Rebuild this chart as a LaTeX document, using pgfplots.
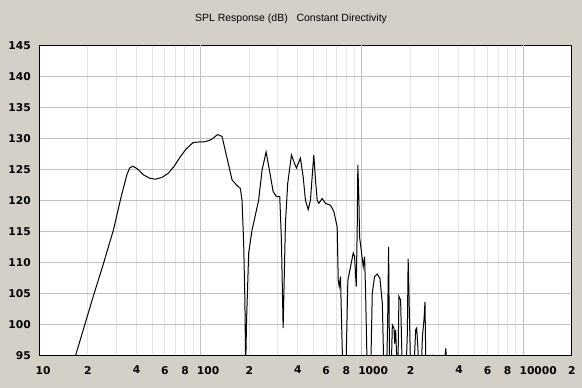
\documentclass[border=0pt]{standalone}
\usepackage{pgfplots}
\pgfplotsset{compat=1.18}
\usepackage{fontspec}
\setmainfont{Liberation Sans}
\newfontfamily\tickfont{DejaVu Sans}
\definecolor{bg}{RGB}{212,208,200}
\definecolor{gmaj}{RGB}{192,192,192}
\definecolor{gmin}{RGB}{228,228,228}
\begin{document}
\begin{tikzpicture}[x=1pt,y=1pt]
\fill[bg] (0,0) rectangle (582,388);
\path[use as bounding box] (0,0) rectangle (582,388);
\begin{axis}[
  at={(39.3pt,32.7pt)}, anchor=south west,
  scale only axis, width=532.4pt, height=310pt,
  xmode=log, log basis x=10,
  xmin=10, xmax=20000, ymin=95, ymax=145,
  axis background/.style={fill=white},
  xtick={10,20,40,60,80,100,200,400,600,800,1000,2000,4000,6000,8000,10000,20000},
  xticklabels={10,2,4,6,8,100,2,4,6,8,1000,2,4,6,8,10000,2},
  minor xtick={20,30,40,50,60,70,80,90,200,300,400,500,600,700,800,900,2000,3000,4000,5000,6000,7000,8000,9000},
  extra x ticks={100,1000,10000},
  extra x tick labels={,,},
  extra x tick style={grid=major},
  ytick={95,100,105,110,115,120,125,130,135,140,145},
  yticklabels={95,100,105,110,115,120,125,130,135,140,145},
  xmajorgrids=false, xminorgrids=true, ymajorgrids=true,
  major grid style={gmaj, line width=1pt},
  minor grid style={gmin, line width=1pt},
  major tick length=0pt, minor tick length=0pt,
  axis line style={black, line width=1pt},
  xticklabel style={font=\tickfont\bfseries\fontsize{10.7}{12}\selectfont, anchor=north west, inner sep=0pt, xshift=-3.8pt, yshift=-10.7pt},
  yticklabel style={font=\tickfont\bfseries\fontsize{10.7}{12}\selectfont, anchor=east, inner sep=0pt, xshift=-8.3pt},
]
\addplot[black, line width=1pt, mark=none] coordinates {
(16.0,93.3) (16.8,95) (21.6,104.5) (25.0,109.8) (28.8,115.2) (32.2,120.6)
(34.9,124.1) (36.3,125.2) (38.0,125.5) (40.4,125.1) (44.3,124.1) (48.0,123.6)
(52.3,123.4) (57.8,123.7) (63.3,124.4) (68.6,125.5) (74.8,127.0) (81.5,128.3)
(89.7,129.3) (96.8,129.4) (107,129.45) (116.5,129.8) (127.5,130.6) (135.8,130.3)
(145.9,126.8) (156.7,123.3) (166.6,122.5) (176.5,121.9) (180.7,120.0) (185,113.1)
(188.2,104) (190.4,93) (192.8,100.7) (198.7,111.5) (208.5,115.2) (229,120.0)
(240.6,124.9) (254.8,127.8) (267,124.9) (281.7,121.4) (295,120.6) (309.6,120.6)
(317,113.7) (325,99.4) (335.8,116.3) (346.9,122.7) (365.9,127.3) (379.2,126.2)
(392.9,125.2) (416,126.8) (432.5,123.8) (446.9,120.0) (464.7,118.5) (480,120)
(494,124.5) (503.5,127.3) (515.7,123.3) (528.5,120) (540.6,119.5) (567.5,120.3)
(595,119.5) (639,119.2) (670,118.2) (703,115.7) (713.7,107.1) (723.9,106.1)
(737,107.7) (762,92) (780.9,92) (800,95) (818.7,107.1) (851,109.3)
(884,111.5) (901,110.9) (923,106.1) (936,115.7) (944,125.7) (958,120.3)
(967.6,114.1) (995.7,111.5) (1020,109.3) (1039,110.9) (1054,105.5) (1080,92)
(1121,92) (1140,95) (1160,105) (1199,107.7) (1246,108.1) (1294,107.4)
(1339,103.4) (1370,92) (1423,92) (1444,100) (1465,112.5) (1486,92)
(1519,92) (1545,99.9) (1581,99.4) (1596,96.9) (1619,99.1) (1659,92)
(1678,95) (1698,104.5) (1739,103.9) (1782,92) (1877,92) (1914,98.5)
(1936,110.6) (1959,105) (2007,92) (2095,92) (2156,99.1) (2187,99.4)
(2228,95.9) (2266,92) (2332,92) (2373,98) (2427,100.7) (2462,103.6)
(2497,92) (2710,92) (2761,95.1) (2808,92) (3217,92) (3311,96.1) (3407,92)
};
\end{axis}
\node[font=\fontsize{10.5}{12}\selectfont, anchor=center] at (291,369) {SPL Response (dB)\ \ \ Constant Directivity};
\end{tikzpicture}
\end{document}
